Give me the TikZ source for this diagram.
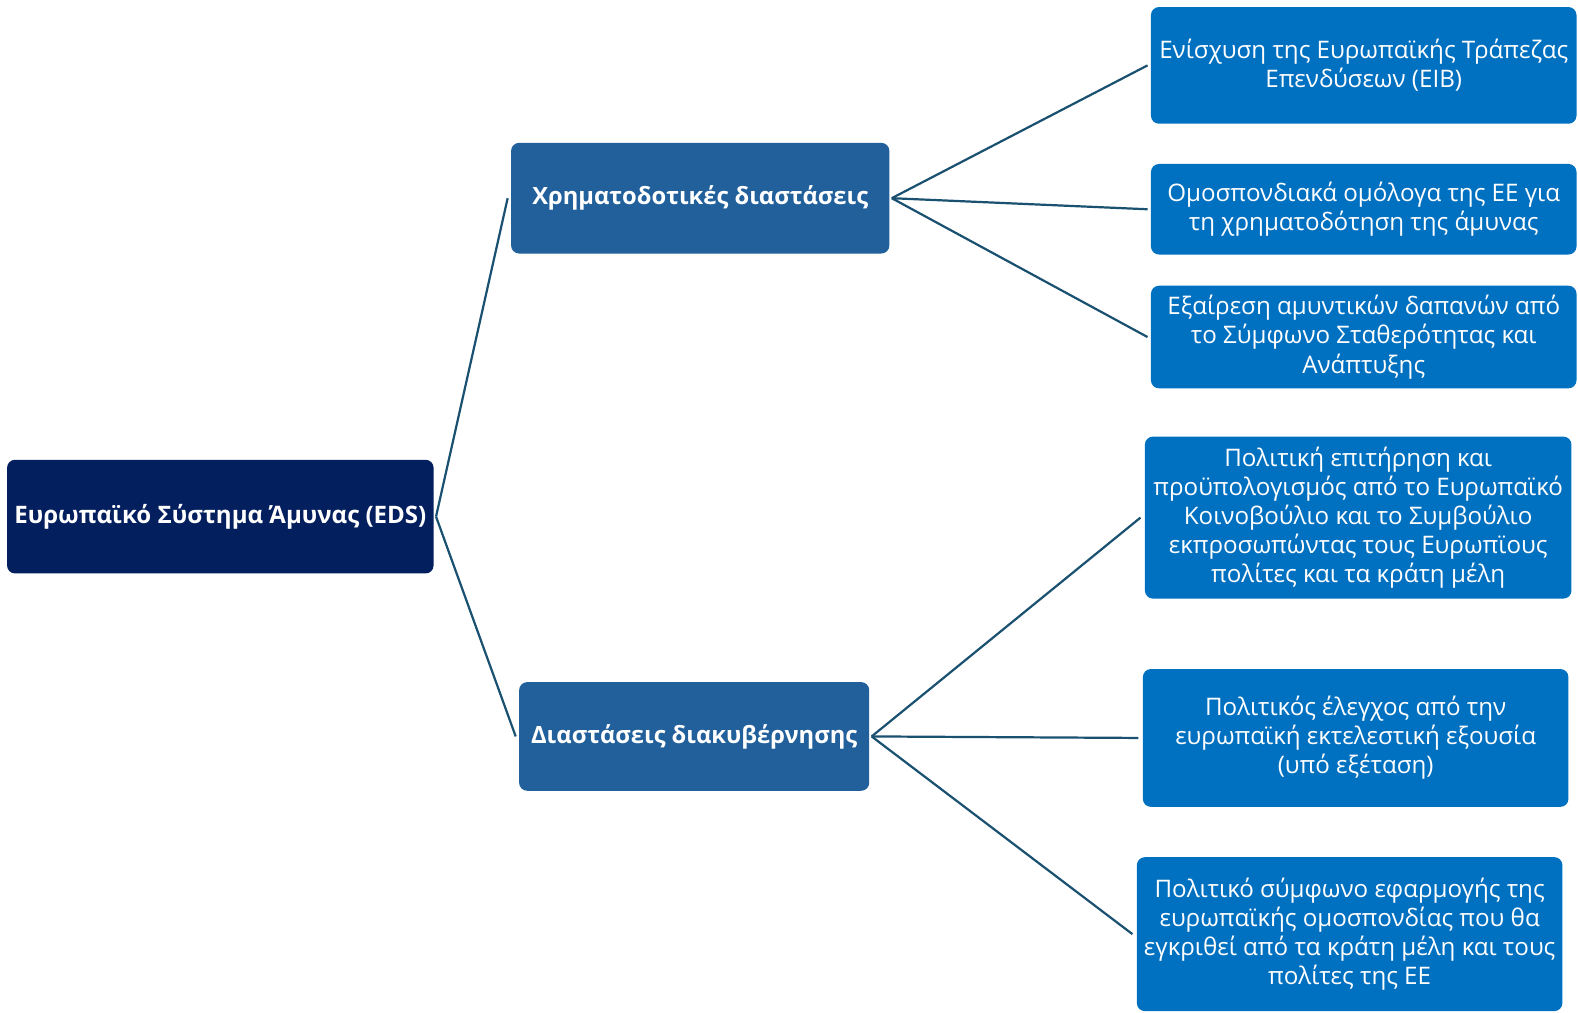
\documentclass[tikz,border=0pt]{standalone}
\usepackage{fontspec}
\setmainfont{Open Sans}
\definecolor{rootc}{HTML}{031F5E}
\definecolor{midc}{HTML}{21609B}
\definecolor{leafc}{HTML}{0070C0}
\definecolor{linec}{HTML}{1A5070}
\tikzset{
  box/.style={rectangle, rounded corners=4pt, inner sep=0pt, align=center, text=white, font=\fontsize{12}{14.5}\selectfont},
  rootbox/.style={box, fill=rootc, font=\fontsize{11.95}{14.5}\selectfont\bfseries},
  midbox/.style={box, fill=midc, font=\fontsize{11.8}{14.5}\selectfont\bfseries},
  leafbox/.style={box, fill=leafc},
  conn/.style={draw=linec, line width=1.1pt},
}
\begin{document}
\begin{tikzpicture}[x=0.5pt,y=-0.5pt]
\useasboundingbox (0,0) rectangle (1568.5,1006);
\node[rootbox, minimum width=212pt, minimum height=56.5pt] (root) at (219,513.5) {Ευρωπαϊκό Σύστημα Άμυνας (EDS)};
\node[midbox, minimum width=188pt, minimum height=55pt] (mid1) at (696,197) {Χρηματοδοτικές διαστάσεις};
\node[midbox, minimum width=174pt, minimum height=54pt] (mid2) at (690,732) {Διαστάσεις διακυβέρνησης};
\node[leafbox, minimum width=211.5pt, minimum height=58pt] (l1) at (1355.5,65) {Ενίσχυση της Ευρωπαϊκής Τράπεζας\\Επενδύσεων (EIB)};
\node[leafbox, minimum width=211.5pt, minimum height=45pt] (l2) at (1355.5,208) {Ομοσπονδιακά ομόλογα της ΕΕ για\\τη χρηματοδότηση της άμυνας};
\node[leafbox, minimum width=211.5pt, minimum height=51pt] (l3) at (1355.5,335) {Εξαίρεση αμυντικών δαπανών από\\το Σύμφωνο Σταθερότητας και\\Ανάπτυξης};
\node[leafbox, minimum width=212pt, minimum height=80.5pt] (l4) at (1350,514.5) {Πολιτική επιτήρηση και\\προϋπολογισμός από το Ευρωπαϊκό\\Κοινοβούλιο και το Συμβούλιο\\εκπροσωπώντας τους Ευρωπϊους\\πολίτες και τα κράτη μέλη};
\node[leafbox, minimum width=211.5pt, minimum height=68.5pt] (l5) at (1347.5,733.5) {Πολιτικός έλεγχος από την\\ευρωπαϊκή εκτελεστική εξουσία\\(υπό εξέταση)};
\node[leafbox, minimum width=211.5pt, minimum height=76.5pt] (l6) at (1341.5,928.5) {Πολιτικό σύμφωνο εφαρμογής της\\ευρωπαϊκής ομοσπονδίας που θα\\εγκριθεί από τα κράτη μέλη και τους\\πολίτες της ΕΕ};
\draw[conn] ([xshift=1pt]root.east) -- ([xshift=-1.5pt]mid1.west);
\draw[conn] ([xshift=1pt]root.east) -- ([xshift=-1.5pt]mid2.west);
\draw[conn] ([xshift=1pt]mid1.east) -- ([xshift=-1.5pt]l1.west);
\draw[conn] ([xshift=1pt]mid1.east) -- ([xshift=-1.5pt]l2.west);
\draw[conn] ([xshift=1pt]mid1.east) -- ([xshift=-1.5pt]l3.west);
\draw[conn] ([xshift=1pt]mid2.east) -- ([xshift=-2pt]l4.west);
\draw[conn] ([xshift=1pt]mid2.east) -- ([xshift=-2pt]l5.west);
\draw[conn] ([xshift=1pt]mid2.east) -- ([xshift=-2pt]l6.west);
\end{tikzpicture}
\end{document}
